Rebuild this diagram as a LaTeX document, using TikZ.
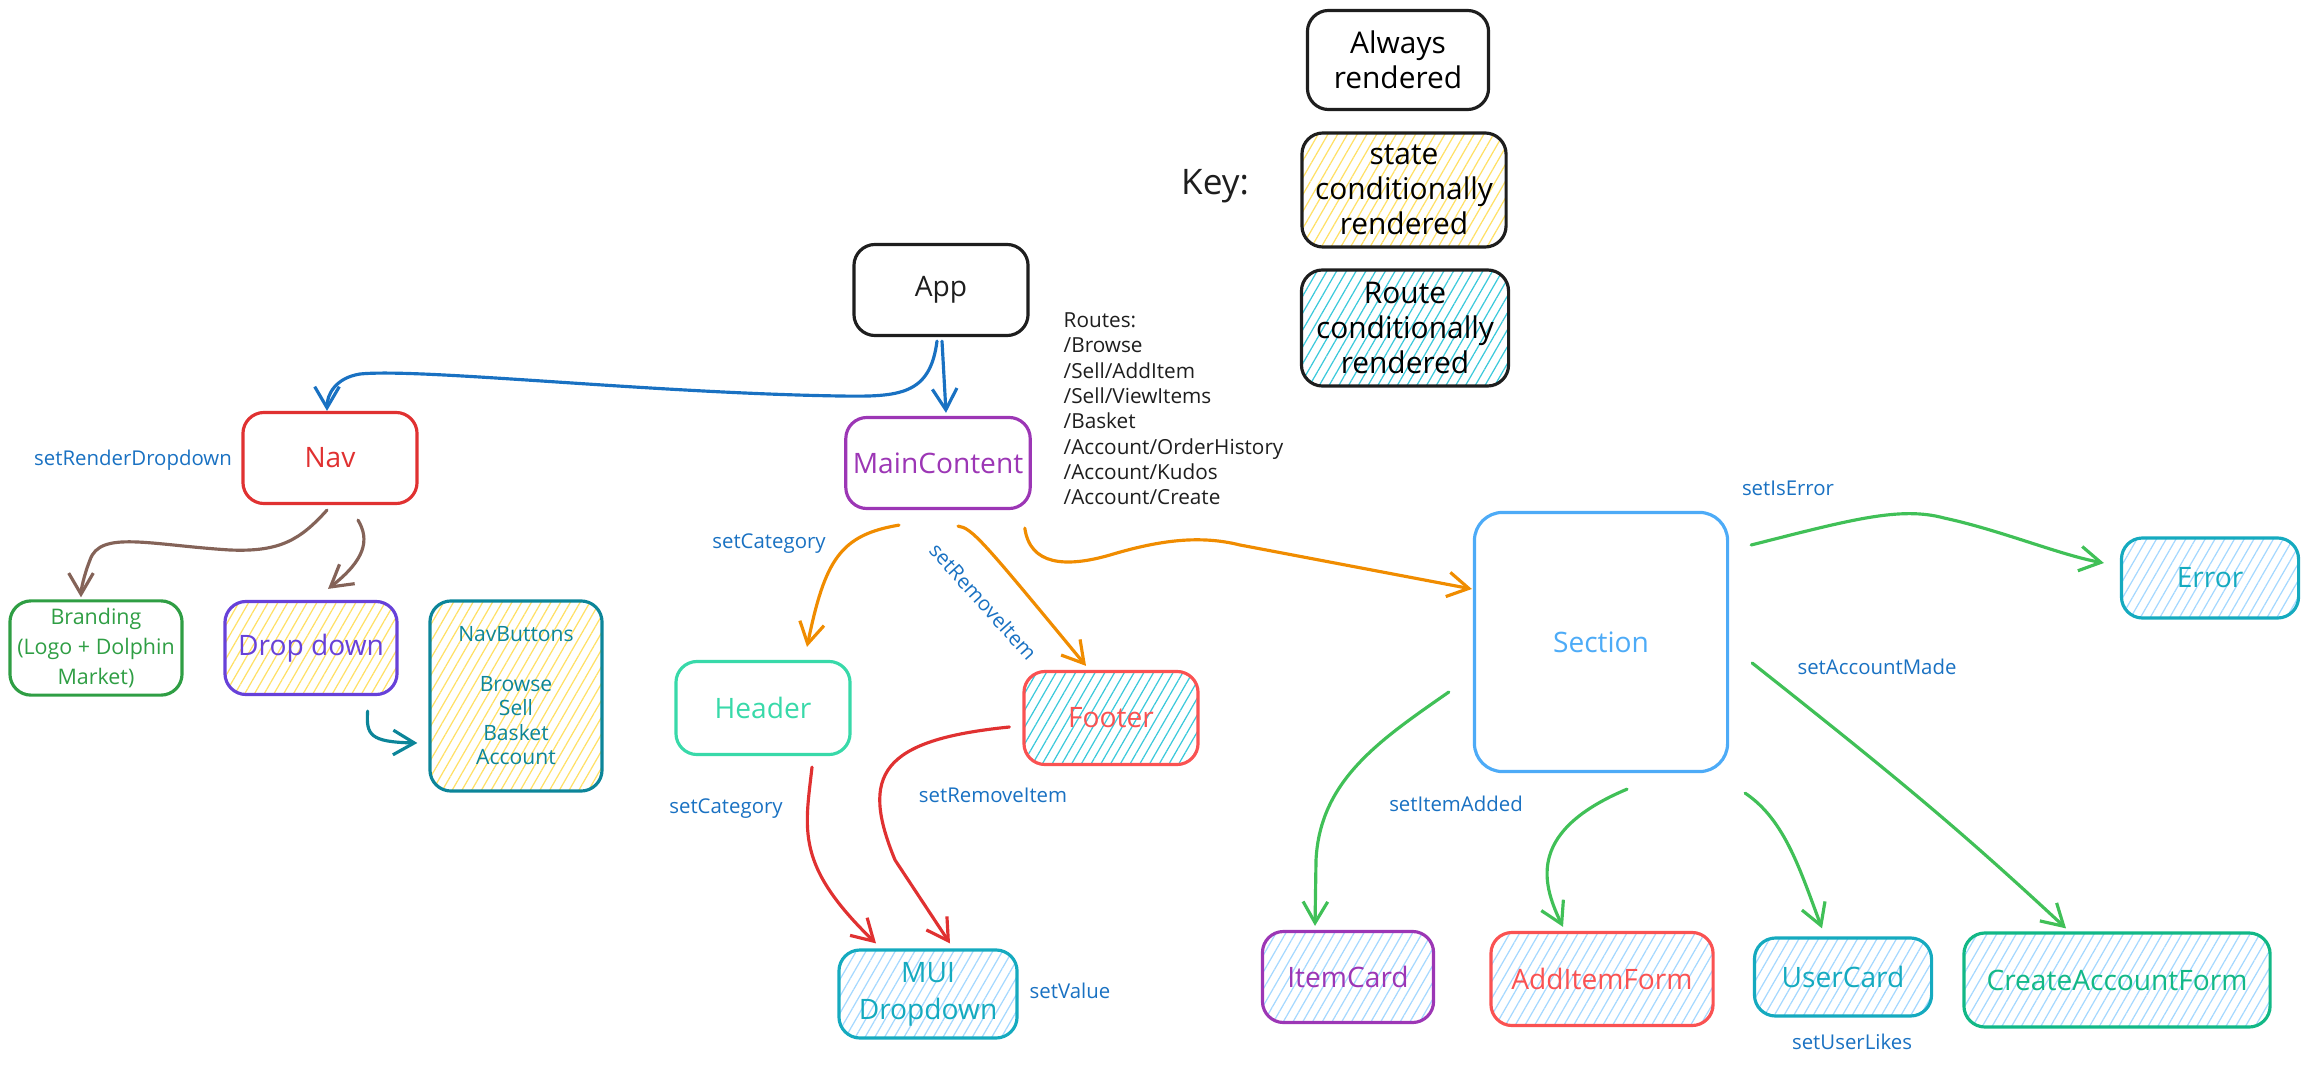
\documentclass[tikz,border=0pt]{standalone}
\usepackage{fontspec}
\setmainfont{Open Sans}
\usetikzlibrary{arrows.meta,patterns.meta,calc}

\definecolor{exblack}{HTML}{1E1E1E}
\definecolor{exblue}{HTML}{1971C2}
\definecolor{exred}{HTML}{E03131}
\definecolor{exlred}{HTML}{FA5252}
\definecolor{exbrown}{HTML}{846358}
\definecolor{exgreen}{HTML}{2F9E44}
\definecolor{exlgreen}{HTML}{40C057}
\definecolor{exindigo}{HTML}{6741D9}
\definecolor{exteal}{HTML}{0C8599}
\definecolor{exviolet}{HTML}{9C36B5}
\definecolor{exorange}{HTML}{F08C00}
\definecolor{exmint}{HTML}{38D9A9}
\definecolor{excyan}{HTML}{15AABF}
\definecolor{exsky}{HTML}{4DABF7}
\definecolor{exjade}{HTML}{12B886}
\definecolor{hyellow}{HTML}{FFE066}
\definecolor{hcyancol}{HTML}{3BC9DB}
\definecolor{hbluecol}{HTML}{A5D8FF}

\begin{document}
\begin{tikzpicture}[x=0.01cm,y=-0.01cm,
	comp/.style={draw,rounded corners=6pt,line width=0.9pt,align=center,inner sep=2pt,font=\fontsize{8}{10.5}\selectfont},
	keytext/.style={font=\fontsize{8.5}{10}\selectfont},
	hyel/.style={pattern={Lines[angle=60,distance=2.4pt,line width=0.35pt]},pattern color=hyellow},
	hcyan/.style={pattern={Lines[angle=60,distance=2.4pt,line width=0.35pt]},pattern color=hcyancol},
	hblue/.style={pattern={Lines[angle=60,distance=2.4pt,line width=0.35pt]},pattern color=hbluecol},
	lbl/.style={text=exblue,inner sep=1pt,font=\fontsize{5.8}{7}\selectfont},
	arr/.style={line width=0.9pt,line cap=round,-{Straight Barb[length=6pt,width=7pt]}}]

	\useasboundingbox (0,0) rectangle (2310,1067);

	% key
	\node[font=\fontsize{10}{12}\selectfont,text=exblack] (key) at (1215,186) {Key:};
	\node[comp,keytext,draw=exblack,minimum width=1.81cm,minimum height=0.99cm] (always) at (1398,60) {Always\\rendered};
	\node[comp,keytext,hyel,draw=exblack,minimum width=2.04cm,minimum height=1.14cm] (statekey) at (1404,190) {state\\conditionally\\rendered};
	\node[comp,keytext,hcyan,draw=exblack,minimum width=2.07cm,minimum height=1.16cm] (routekey) at (1405,328) {Route\\conditionally\\rendered};

	% components
	\node[comp,draw=exblack,text=exblack,minimum width=1.74cm,minimum height=0.91cm] (app) at (941,290) {App};
	\node[comp,draw=exviolet,text=exviolet,minimum width=1.77cm,minimum height=0.91cm] (maincontent) at (938,463) {MainContent};
	\node[anchor=north west,align=left,inner sep=0pt,text=exblack,font=\fontsize{5.9}{7.2}\selectfont] (routes) at (1063,312)
		{Routes:\\/Browse\\/Sell/AddItem\\/Sell/ViewItems\\/Basket\\/Account/OrderHistory\\/Account/Kudos\\/Account/Create};
	\node[comp,draw=exred,text=exred,minimum width=1.74cm,minimum height=0.91cm] (nav) at (330,458) {Nav};
	\node[comp,draw=exgreen,text=exgreen,minimum width=1.72cm,minimum height=0.93cm,font=\fontsize{6.1}{8.6}\selectfont] (branding) at (96,648) {Branding\\(Logo + Dolphin\\Market)};
	\node[comp,hyel,draw=exindigo,text=exindigo,minimum width=1.72cm,minimum height=0.93cm] (dropdown) at (311,648) {Drop down};
	\node[comp,hyel,draw=exteal,text=exteal,minimum width=1.72cm,minimum height=1.90cm,font=\fontsize{6}{7}\selectfont] (navbuttons) at (516,696) {NavButtons\\[7pt]Browse\\Sell\\Basket\\Account};
	\node[comp,draw=exmint,text=exmint,minimum width=1.74cm,minimum height=0.93cm] (header) at (763,708) {Header};
	\node[comp,hcyan,draw=exlred,text=exlred,minimum width=1.74cm,minimum height=0.93cm] (footer) at (1111,718) {Footer};
	\node[comp,hblue,draw=excyan,text=excyan,minimum width=1.78cm,minimum height=0.88cm] (mui) at (928,994) {MUI\\Dropdown};
	\node[comp,draw=exsky,text=exsky,rounded corners=8pt,minimum width=2.53cm,minimum height=2.59cm] (section) at (1601,642) {Section};
	\node[comp,hblue,draw=excyan,text=excyan,minimum width=1.77cm,minimum height=0.80cm] (error) at (2210,578) {Error};
	\node[comp,hblue,draw=exviolet,text=exviolet,minimum width=1.71cm,minimum height=0.91cm] (itemcard) at (1348,977) {ItemCard};
	\node[comp,hblue,draw=exlred,text=exlred,minimum width=2.22cm,minimum height=0.93cm] (additemform) at (1602,979) {AddItemForm};
	\node[comp,hblue,draw=excyan,text=excyan,minimum width=1.77cm,minimum height=0.78cm] (usercard) at (1843,977) {UserCard};
	\node[comp,hblue,draw=exjade,text=exjade,minimum width=3.06cm,minimum height=0.94cm] (createaccount) at (2117,980) {CreateAccountForm};

	% setter labels
	\node[lbl] (lrender) at (133,460) {setRenderDropdown};
	\node[lbl] (lcat1) at (769,544) {setCategory};
	\node[lbl,rotate=-48] (lremove1) at (983,602) {setRemoveItem};
	\node[lbl] (lcat2) at (726,809) {setCategory};
	\node[lbl] (lremove2) at (993,795) {setRemoveItem};
	\node[lbl] (lvalue) at (1070,991) {setValue};
	\node[lbl] (liserror) at (1788,488) {setIsError};
	\node[lbl] (laccount) at (1877,667) {setAccountMade};
	\node[lbl] (litem) at (1456,804) {setItemAdded};
	\node[lbl] (llikes) at (1852,1042) {setUserLikes};

	% App
	\draw[arr,exblue] ($(app.south)+(-4,4)$) .. controls (930,395) and (900,397) .. (840,396)
		.. controls (650,393) and (420,368) .. (360,374) .. controls (335,378) and (327,395) .. ($(nav.north)+(-3,0)$); %to Nav
	\draw[arr,exblue] ($(app.south)+(1,4)$) -- ($(maincontent.north)+(8,-3)$); %to MainContent

	% Nav
	\draw[arr,exbrown] ($(nav.south)+(-3,5)$) .. controls (300,540) and (280,552) .. (230,550)
		.. controls (150,545) and (100,530) .. (90,560) .. controls (84,575) and (81,590) .. ($(branding.north)+(-15,-2)$); %to Branding
	\draw[arr,exbrown] ($(nav.south)+(28,15)$) .. controls (370,540) and (365,560) .. ($(dropdown.north)+(17,-11)$); %to Drop down
	\draw[arr,exteal] ($(dropdown.south east)+(-31,15)$) .. controls (366,735) and (370,742) .. ($(navbuttons.west)+(-11,47)$); %to NavButtons

	% MainContent
	\draw[arr,exorange] ($(maincontent.south)+(-39,15)$) .. controls (840,535) and (825,560) .. ($(header.north)+(44,-13)$); %to Header
	\draw[arr,exorange] ($(maincontent.south)+(20,16)$) .. controls (972,528) and (982,540) .. ($(footer.north)+(-25,-4)$); %to Footer
	\draw[arr,exorange] ($(maincontent.south east)+(-7,18)$) .. controls (1030,565) and (1065,568) .. (1110,555)
		.. controls (1160,540) and (1200,535) .. (1240,545) -- ($(section.west)+(-1,-53)$); %to Section

	% Header and Footer
	\draw[arr,exred] ($(header.south)+(49,11)$) .. controls (805,830) and (795,865) .. ($(mui.north)+(-52,-5)$); %to MUI
	\draw[arr,exred] ($(footer.west)+(-13,9)$) .. controls (880,740) and (860,775) .. (895,860) -- ($(mui.north)+(22,-5)$); %to MUI

	% Section
	\draw[arr,exlgreen] ($(section.east)+(22,-97)$) .. controls (1850,520) and (1900,506) .. (1944,518)
		.. controls (2000,530) and (2060,555) .. ($(error.west)+(-16,-15)$); %to Error
	\draw[arr,exlgreen] ($(section.west)+(-24,50)$) .. controls (1380,740) and (1320,780) .. (1316,860) -- ($(itemcard.north)+(-33,-4)$); %to ItemCard
	\draw[arr,exlgreen] ($(section.south)+(26,16)$) .. controls (1530,830) and (1540,880) .. ($(additemform.north)+(-39,-4)$); %to AddItemForm
	\draw[arr,exlgreen] ($(section.south east)+(16,20)$) .. controls (1785,820) and (1800,870) .. ($(usercard.north)+(-21,-8)$); %to UserCard
	\draw[arr,exlgreen] ($(section.east)+(23,21)$) .. controls (1900,780) and (1960,830) .. ($(createaccount.north)+(-51,-3)$); %to CreateAccountForm
\end{tikzpicture}
\end{document}
